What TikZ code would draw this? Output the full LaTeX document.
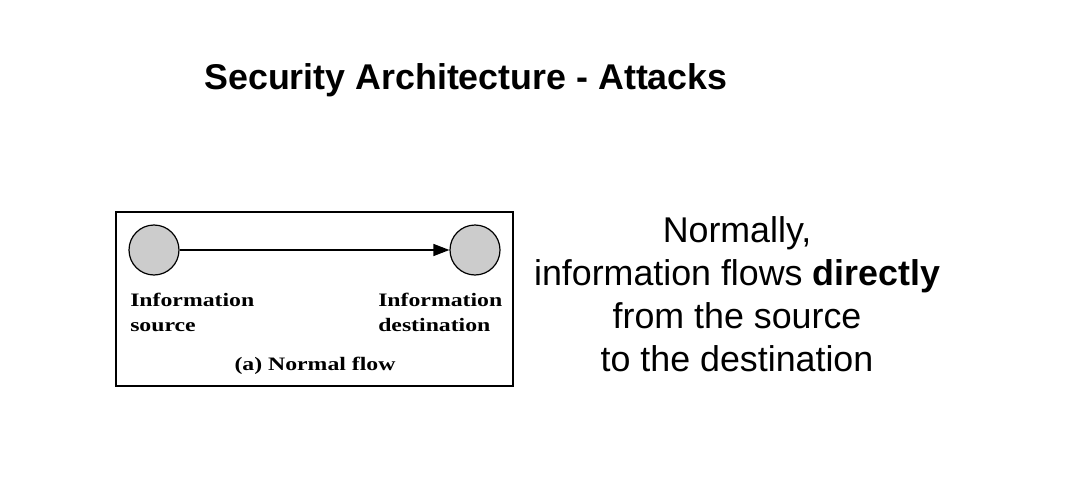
\documentclass[tikz,border=0pt]{standalone}
\usepackage{fontspec}
\setmainfont{Liberation Serif}
\setsansfont{Liberation Sans}
\usetikzlibrary{arrows.meta}
\begin{document}
\begin{tikzpicture}[x=1pt,y=-1pt,
  dot/.style={circle,draw,line width=1.2pt,fill=black!20,minimum size=50pt,inner sep=0pt},
  lbl/.style={font=\fontsize{19}{25}\selectfont\bfseries,align=left,inner sep=0pt,xscale=1.25},
  flow/.style={line width=1.4pt,-{Triangle[length=16pt,width=12pt]}}]
\useasboundingbox (0,0) rectangle (1083,500);
\node[font=\sffamily\bfseries\fontsize{35.8}{40}\selectfont] (title) at (466,80) {Security Architecture - Attacks};
\node[draw,line width=1.2pt,minimum width=397pt,minimum height=174pt,inner sep=0pt] (frame) at (314.5,299) {};
\node[dot] (src) at (154,250) {};
\node[dot] (dst) at (475,250) {};
\draw[flow] (src) -- (dst);
\node[lbl,anchor=north west] (srcl) at (130,293) {Information\\source};
\node[lbl,anchor=north west] (dstl) at (378,293) {Information\\destination};
\node[lbl] (cap) at (315,366) {(a) Normal flow};
\node[font=\sffamily\fontsize{35.8}{43}\selectfont,align=center] (txt) at (737,294) {Normally,\\information flows \textbf{directly}\\from the source\\to the destination};
\end{tikzpicture}
\end{document}
